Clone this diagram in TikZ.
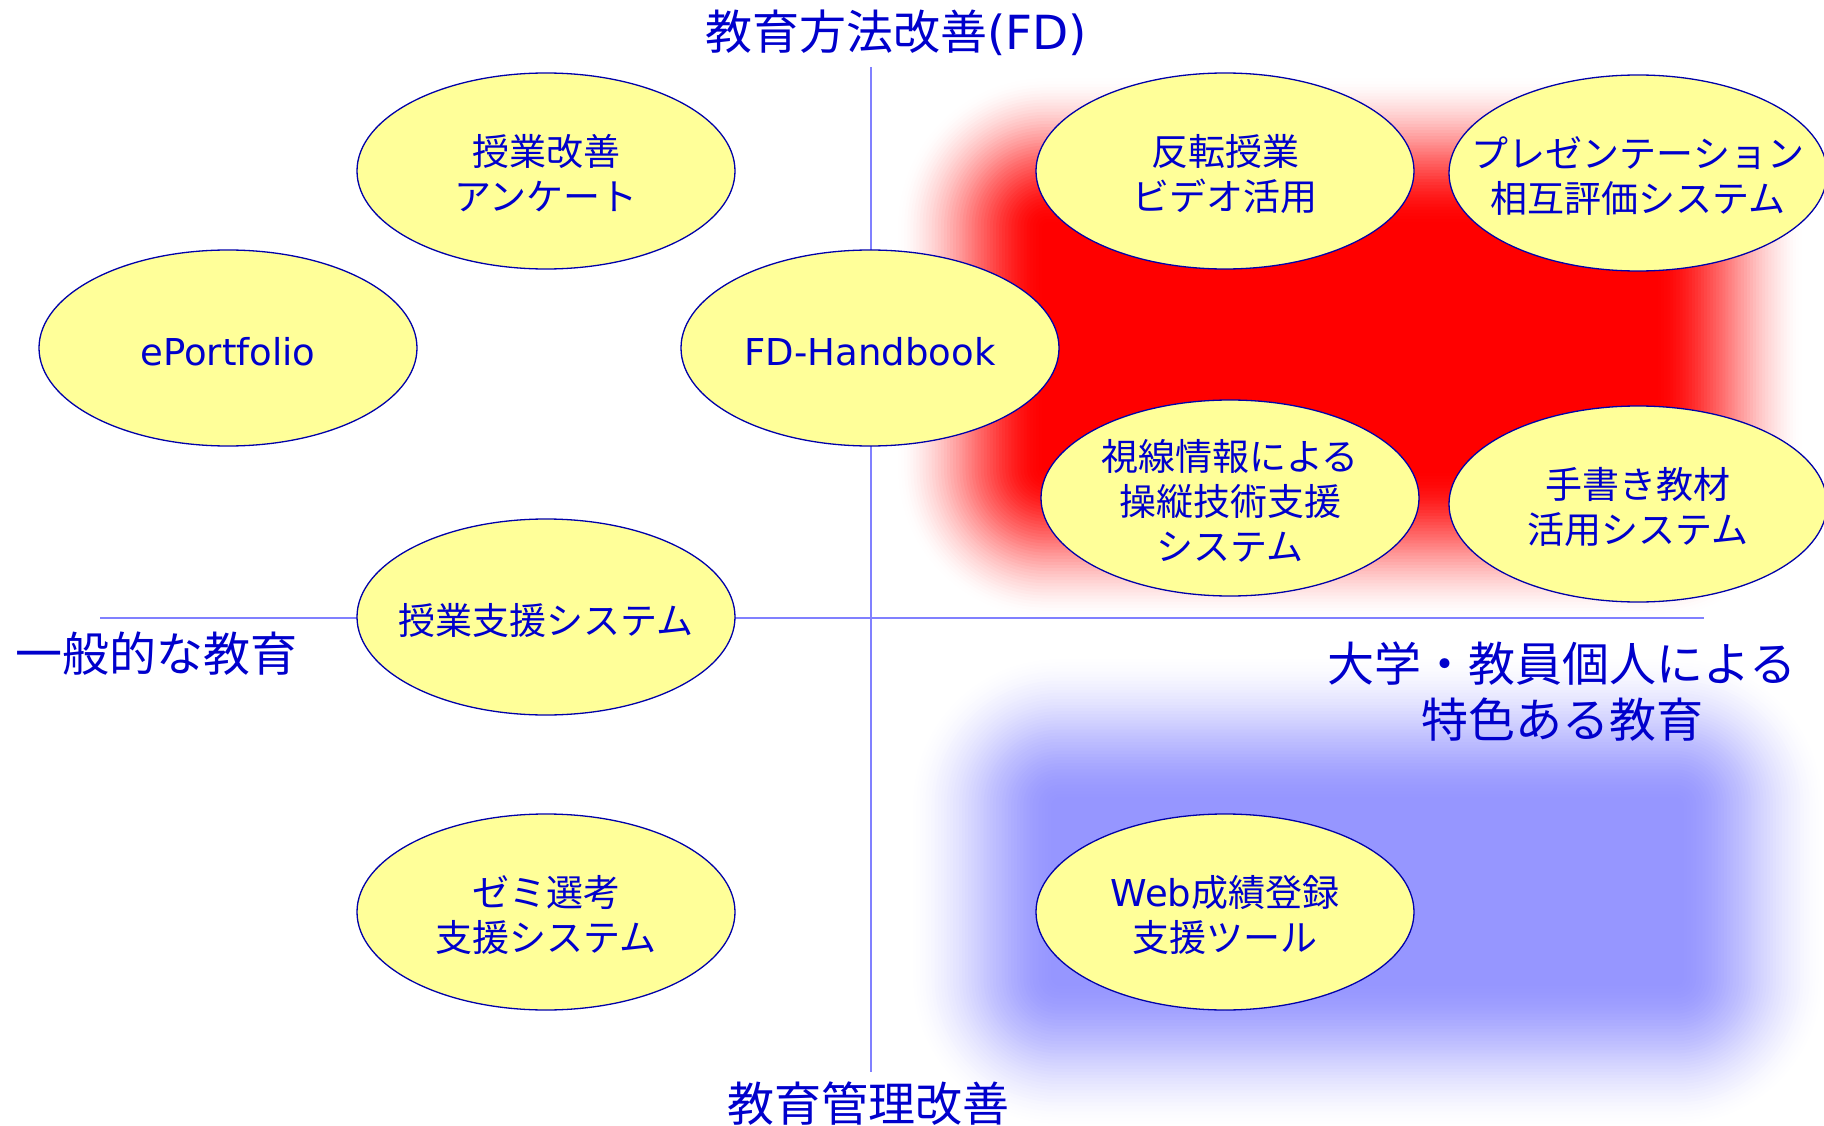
\documentclass[tikz,border=0pt]{standalone}
\usepackage{fontspec}
\setmainfont{Noto Sans CJK JP}
\newfontfamily\latinf{DejaVu Sans}
\usetikzlibrary{shapes.geometric}
\definecolor{txtblue}{RGB}{0,0,204}
\definecolor{bubfill}{RGB}{255,255,153}
\definecolor{bubline}{RGB}{0,0,170}
\definecolor{axisc}{RGB}{128,128,255}
\definecolor{softred}{RGB}{255,0,0}
\definecolor{softblue}{RGB}{150,150,255}
\newcommand\zw[1]{\makebox[0pt][c]{\raisebox{-8pt}[\height][\depth]{\begin{tabular}{@{}c@{}}#1\end{tabular}}}}
% soft-edged rectangle: colour, cx, cy, half width, half height, blur width
\newcommand\softrect[6]{%
  \foreach \k in {1,...,50}{%
    \pgfmathsetmacro\dd{#6/2-(\k-1)*#6/49}%
    \pgfmathsetmacro\tA{\k/50}%
    \pgfmathsetmacro\tB{(\k-1)/50}%
    \pgfmathsetmacro\cA{3*\tA*\tA-2*\tA*\tA*\tA}%
    \pgfmathsetmacro\cB{3*\tB*\tB-2*\tB*\tB*\tB}%
    \pgfmathsetmacro\op{min(1,(\cA-\cB)/(1-\cB))}%
    \pgfmathsetmacro\rr{max(1,(50-\k)*#6/49+2)}%
    \fill[#1,fill opacity=\op,rounded corners=\rr pt]
      ({#2-#4-\dd},{#3-#5-\dd}) rectangle ({#2+#4+\dd},{#3+#5+\dd});
  }}
\begin{document}
\begin{tikzpicture}[x=1pt,y=-1pt,
  bubble/.style={ellipse, draw=bubline, fill=bubfill, line width=1.3pt,
    minimum width=378pt, minimum height=196pt, inner sep=0pt, text=txtblue,
    font=\fontsize{37pt}{45pt}\selectfont},
  axislabel/.style={text=txtblue, font=\fontsize{47pt}{56pt}\selectfont,
    align=center, inner sep=0pt},
  axisline/.style={draw=axisc, line width=2pt}]
\useasboundingbox (0,0) rectangle (1824,1126);
\softrect{softred}{1350}{347.5}{380}{197.5}{150}
\softrect{softblue}{1367.5}{891.5}{385.5}{163.5}{150}
\coordinate (vt) at (871,67);
\coordinate (vb) at (871,1072);
\coordinate (hl) at (100,618);
\coordinate (hr) at (1704,618);
\draw[axisline] (vt) -- (vb);
\draw[axisline] (hl) -- (hr);
\node[bubble] (n1) at (546,171) {\zw{授業改善\\アンケート}};
\node[bubble] (n2) at (228,348) {\zw{{\latinf ePortfolio}}};
\node[bubble] (n3) at (870,348) {\zw{{\latinf FD-Handbook}}};
\node[bubble] (n4) at (1225,171) {\zw{反転授業\\ビデオ活用}};
\node[bubble] (n5) at (1638,173) {\zw{プレゼンテーション\\相互評価システム}};
\node[bubble] (n6) at (1230,498) {\zw{視線情報による\\操縦技術支援\\システム}};
\node[bubble] (n7) at (1638,504) {\zw{手書き教材\\活用システム}};
\node[bubble] (n8) at (546,617) {\zw{授業支援システム}};
\node[bubble] (n9) at (546,912) {\zw{ゼミ選考\\支援システム}};
\node[bubble] (n10) at (1225,912) {\zw{{\latinf Web}成績登録\\支援ツール}};
\node[axislabel] (ltop) at (896,33) {教育方法改善{\latinf (FD)}};
\node[axislabel] (lleft) at (157,654) {一般的な教育};
\node[axislabel] (lbot) at (868,1104) {教育管理改善};
\node[axislabel] (lright) at (1562,692) {大学・教員個人による\\特色ある教育};
\end{tikzpicture}
\end{document}
